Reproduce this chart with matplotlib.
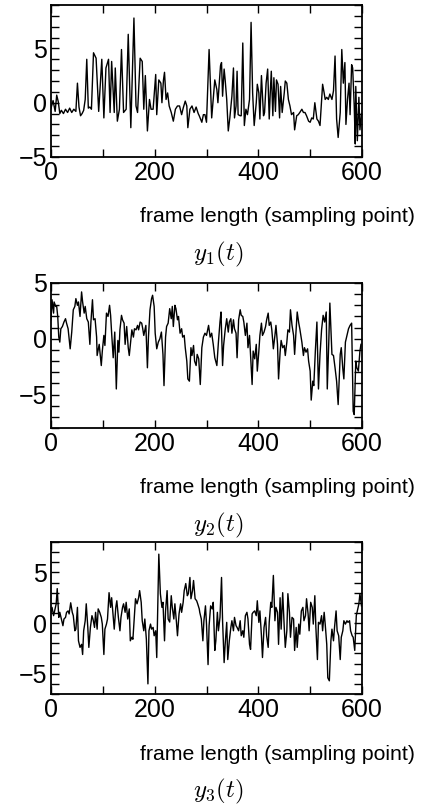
import matplotlib
matplotlib.use("Agg")
import matplotlib.pyplot as plt
from matplotlib.ticker import MultipleLocator

plt.rcParams['font.family'] = ['Liberation Sans', 'DejaVu Sans']
plt.rcParams['mathtext.fontset'] = 'cm'

# ---------------- data (sample index, amplitude) ----------------
x1 = [0, 4, 8, 11, 14, 17, 20, 24, 28, 32, 36, 40, 44, 48, 51, 54, 57, 60, 63, 66,
      69, 72, 75, 78, 82, 87, 92, 98, 102, 106, 111, 114, 117, 122, 124, 128, 132, 136,
      140, 145, 149, 154, 160, 164, 167, 172, 176, 179, 182, 186, 190, 193, 197, 202,
      204, 208, 212, 214, 217, 219, 222, 225, 228, 232, 236, 240, 244, 248, 252, 255,
      259, 262, 264, 268, 272, 276, 280, 284, 286, 291, 294, 297, 300, 305, 310, 313,
      316, 320, 322, 325, 327, 329, 331, 334, 336, 339, 342, 345, 349, 352, 354, 357,
      359, 361, 365, 367, 370, 373, 376, 379, 383, 386, 389, 392, 396, 398, 401, 403,
      406, 410, 412, 415, 418, 421, 423, 425, 428, 430, 433, 435, 438, 441, 443, 446,
      450, 452, 455, 458, 461, 464, 468, 470, 474, 477, 480, 484, 487, 490, 493, 497,
      500, 503, 506, 509, 513, 516, 519, 524, 527, 529, 532, 535, 538, 542, 545, 548,
      551, 554, 558, 561, 564, 567, 569, 572, 575, 577, 580, 582, 585, 587, 588, 591,
      594, 596, 599]
y1 = [-0.5, 0.2, -0.8, 0.7, 0.1, -1.0, -0.7, -1.0, -0.6, -0.9, -0.5, -0.9, -0.6, -0.8,
      1.8, -0.4, -1.2, -1.0, -0.7, 0.3, 4.0, -0.5, -0.4, -0.6, 4.6, 4.1, -0.8, 4.0, -1.4,
      3.2, 4.0, -0.9, 3.8, -0.9, 3.2, -1.7, -0.6, 4.9, -0.9, -0.6, 6.3, -2.3, 7.8, -0.3,
      -0.9, 4.1, 3.8, -0.6, 2.5, -2.6, 0.3, -0.6, -0.6, 2.6, -1.1, 2.1, 1.8, 0.0, 2.1,
      2.8, 0.3, 0.9, -0.3, -0.9, -1.7, -0.6, -0.3, -0.3, -1.1, -0.5, 0.15, -0.3, -2.3,
      -0.6, -0.3, -0.9, -0.4, -1.0, -1.2, -1.8, -1.1, -1.1, -1.8, 4.9, -1.4, 0.3, 2.1,
      1.2, 0.0, 2.1, 3.4, 3.7, 0.6, 3.1, 2.1, 0.3, -2.6, -1.4, 0.6, 3.2, -1.4, -0.3, 2.9,
      -1.1, -1.2, -1.2, 5.5, -2.1, -0.6, -1.1, 0.3, 7.4, 0.9, -2.1, 0.0, 1.7, 0.9, -1.5,
      2.5, -1.2, -0.9, 1.8, 3.1, -1.5, 0.9, 2.9, -1.2, 2.3, -0.8, 2.1, 1.7, -1.4, 1.5,
      -0.9, 0.9, 2.0, 1.8, 0.3, -0.3, -1.1, -0.9, -2.5, -1.2, -1.1, -0.9, -0.6, -0.9,
      -0.9, -1.2, -1.7, -1.8, -1.4, -1.5, 0.0, -1.5, -1.7, -2.1, 1.7, 0.9, 0.3, 0.5, 0.3,
      0.8, 0.3, 1.1, 4.3, -1.5, -3.2, -0.9, 4.9, 1.8, 3.7, -2.0, 0.3, 1.8, -1.1, 3.5,
      3.2, -0.3, -3.8, 1.5, -3.5, 0.5, -2.5, -1.0]

x2 = [0, 2, 5, 6, 9, 11, 13, 15, 17, 19, 22, 25, 28, 30, 33, 37, 40, 43, 46, 48, 51,
      53, 56, 59, 61, 64, 66, 69, 72, 75, 77, 80, 82, 85, 88, 89, 93, 97, 99, 102, 104,
      107, 110, 113, 115, 117, 120, 123, 126, 129, 131, 133, 136, 138, 141, 143, 146,
      149, 151, 154, 156, 159, 161, 164, 167, 169, 172, 175, 177, 179, 183, 186, 188,
      191, 194, 196, 199, 201, 204, 207, 210, 213, 216, 218, 221, 223, 226, 229, 232,
      234, 236, 239, 241, 244, 246, 249, 252, 254, 257, 259, 262, 264, 267, 270, 272,
      275, 277, 280, 282, 285, 288, 291, 294, 297, 300, 304, 307, 310, 313, 316, 320,
      323, 326, 328, 331, 333, 336, 339, 342, 344, 347, 349, 352, 354, 357, 359, 362,
      365, 367, 370, 372, 375, 378, 380, 383, 385, 388, 390, 393, 396, 398, 401, 403,
      406, 408, 411, 414, 416, 419, 421, 424, 426, 429, 432, 434, 437, 439, 442, 444,
      447, 450, 452, 455, 457, 460, 462, 465, 468, 470, 473, 475, 478, 480, 484, 487,
      489, 492, 495, 497, 500, 502, 505, 507, 510, 513, 516, 519, 522, 525, 528, 531,
      533, 536, 538, 542, 545, 548, 551, 554, 558, 560, 563, 565, 568, 571, 574, 577,
      580, 583, 585, 588, 590, 593, 596, 598]
y2 = [1.7, 3.5, 2.3, 3.3, 2.9, 2.9, 2.0, 0.15, -0.3, 0.9, 1.1, 1.5, 1.8, 1.4, 0.9,
      -0.9, 0.6, 2.6, 2.9, 3.6, 3.0, 3.3, 2.0, 4.2, 3.3, 2.3, 2.9, 1.8, 1.5, -0.5, 1.5,
      3.5, 1.7, 1.8, 0.15, -1.5, -0.5, -2.4, -1.1, 0.3, -0.6, 2.3, 2.0, 3.0, 2.1, 0.5,
      -1.7, 0.6, -4.5, -0.15, -1.2, 0.8, 2.1, 1.7, 1.4, -0.5, 1.1, -0.8, -1.5, -0.15,
      0.8, 0.15, 0.9, 0.8, 1.2, 0.8, 1.5, 1.4, 0.9, 0.3, 1.2, -2.6, 0.15, 2.6, 3.6, 3.9,
      2.9, 0.5, -0.9, -0.3, 0.0, 0.6, -1.4, -4.2, 0.15, 1.1, 1.4, 2.7, 1.8, 2.9, 1.1, 3.0,
      2.7, 1.7, 2.0, 0.5, 0.9, 0.15, 0.3, -0.8, -2.0, -3.6, -3.8, -0.8, -1.5, -0.6, -2.0,
      -2.4, -1.4, -1.8, -4.1, -0.8, 0.15, 0.5, 0.3, 1.2, 0.15, 0.5, -0.5, -1.7, -2.4,
      -0.3, 1.5, 2.4, -2.4, -0.6, 0.8, 1.8, 0.6, 1.5, 1.8, 0.5, 1.7, 0.9, 0.5, -1.7, 1.7,
      2.6, 2.1, 2.0, 1.5, 0.3, 1.4, -0.8, 0.3, -1.5, -4.1, -1.1, -1.8, -0.5, -2.9, -1.1,
      0.3, 1.4, 0.3, 0.6, 1.1, 1.7, 2.3, 1.2, 1.5, 0.8, -0.9, 0.3, 1.2, -0.5, -3.6, -1.2,
      -0.15, -0.8, -0.6, -1.5, -0.3, 0.8, 0.6, 2.6, 1.2, 0.3, -1.4, 0.8, 2.4, 1.4, 0.9,
      -0.3, -1.5, -0.8, -1.2, -0.9, -2.0, -2.9, -5.5, -3.8, -4.2, -1.1, 1.5, -4.5, -1.4,
      0.8, 2.1, 1.5, 2.4, -4.5, -0.15, 3.2, -1.4, -1.5, -2.6, -3.8, -5.9, -1.4, -0.8,
      -2.7, -3.6, -0.3, 0.3, 0.9, 1.2, 1.4, -6.5, -6.8, -2.0, -2.6, -2.9, -1.1, -0.5]

x3 = [0, 2, 5, 7, 10, 12, 15, 17, 20, 23, 25, 28, 30, 33, 35, 38, 41, 43, 46, 48, 51,
      53, 56, 59, 61, 63, 66, 68, 71, 73, 76, 79, 81, 84, 86, 89, 91, 94, 97, 99, 102,
      104, 107, 109, 112, 115, 117, 120, 122, 125, 127, 130, 133, 135, 138, 140, 143,
      145, 148, 151, 153, 156, 158, 161, 163, 166, 169, 171, 174, 176, 179, 181, 184,
      187, 189, 192, 194, 197, 199, 202, 204, 206, 208, 211, 214, 216, 219, 221, 224,
      226, 229, 232, 234, 237, 239, 242, 244, 247, 250, 252, 255, 257, 260, 263, 265,
      268, 270, 273, 275, 278, 281, 283, 286, 287, 290, 293, 295, 298, 300, 303, 305,
      308, 311, 313, 316, 318, 321, 323, 326, 329, 331, 334, 336, 339, 341, 344, 347,
      349, 352, 354, 357, 359, 362, 365, 367, 370, 372, 375, 378, 380, 383, 385, 388,
      390, 393, 396, 398, 401, 403, 406, 408, 411, 414, 416, 419, 421, 424, 426, 429,
      432, 434, 437, 439, 442, 444, 447, 450, 452, 455, 457, 460, 462, 465, 468, 470,
      473, 475, 478, 480, 483, 486, 488, 491, 493, 496, 498, 501, 504, 506, 509, 511,
      514, 516, 519, 522, 524, 527, 529, 532, 534, 537, 540, 542, 545, 547, 550, 552,
      555, 558, 560, 563, 565, 568, 571, 573, 576, 578, 581, 583, 586, 589, 591, 594,
      596, 599]
y3 = [1.06, 1.55, 0.73, 1.2, 1.9, 3.4, 0.56, 1.06, 0.4, -0.26, 0.4, 0.56, 1.06, 1.2,
      0.9, 2.0, 1.06, 0.73, -0.76, -0.6, 1.55, -1.75, -2.4, -2.1, -3.1, -0.76, 0.23, 1.9,
      -0.43, -2.4, -0.43, 0.73, 0.4, -0.43, 1.06, -0.6, 1.4, 1.06, 0.56, -0.1, -3.1, -0.6,
      -0.1, 0.4, 3.0, 1.55, 2.5, 0.56, -0.6, 1.55, 2.2, 0.56, -0.76, 0.56, 1.55, 1.9,
      1.06, 2.05, 0.4, 1.4, -1.75, -1.4, -1.6, 0.9, 2.4, 1.9, 2.5, 3.2, 2.05, 0.23, -0.76,
      0.4, -1.6, -6.0, -0.76, -0.1, -0.6, -0.43, -1.25, -0.76, -3.4, 1.9, 6.8, 2.9, 1.55,
      2.05, -1.75, 1.2, 3.2, 0.4, 0.1, 2.7, 1.55, 0.4, 1.9, 0.1, -1.25, 0.9, 1.9, 1.06,
      2.05, 3.2, 3.9, 2.7, 2.9, 4.5, 2.4, 3.2, 4.2, 2.4, 2.2, 1.9, 1.4, 1.06, 0.4, -1.75,
      0.23, 1.7, -0.1, -4.1, -0.26, 1.7, 1.4, 2.05, -2.7, -1.75, 1.06, -0.76, 0.56, 4.5,
      0.23, -3.9, -2.1, 0.07, -3.6, -1.75, -0.43, 0.23, -0.76, 0.56, -0.26, -0.43, -0.76,
      0.23, -1.25, -0.76, -1.4, 0.73, 1.06, 0.4, -2.1, -2.6, 0.9, 1.06, 1.2, 0.73, 2.2,
      0.07, 1.2, -1.25, -3.4, -0.43, 0.56, -1.25, -2.4, 0.07, 2.05, 1.55, 4.7, 0.23, 1.55,
      1.06, -2.1, 2.5, -0.6, 3.0, -0.43, -2.4, -0.76, 2.9, 1.06, -1.4, 0.56, 0.4, -2.7,
      -0.43, -2.4, -0.1, -1.1, 1.2, 1.55, 0.23, 0.73, 2.4, 0.9, -0.76, 2.05, 1.55, -0.1,
      2.7, -0.43, -3.6, 0.07, -0.1, 0.73, -0.76, 1.06, -0.1, -2.1, -5.4, -5.7, -1.75,
      -0.6, -1.75, -0.43, 1.2, -0.76, -1.25, -3.6, -1.4, -0.76, 0.23, -0.1, 0.23, 0.07,
      0.23, -0.76, -1.25, -1.4, -2.7, 0.73, 1.2, 1.9, 2.9, 1.7]

series = [(x1, y1), (x2, y2), (x3, y3)]
titles = ['$y_1(t)$', '$y_2(t)$', '$y_3(t)$']
ylims = [(-5, 9), (-8, 5), (-7, 8)]
xticks_major = [0, 200, 400, 600]
yticks_major = [-5, 0, 5]
xlabel = 'frame length (sampling point)'

W, H = 431, 810
# axes boxes in pixels: left, top, right, bottom
boxes = [(51, 5, 362, 157), (51, 283, 362, 428), (51, 542, 362, 694)]

fig = plt.figure(figsize=(W / 100, H / 100), dpi=100)
for (xs, ys), ttl, yl, (l, t, r, b) in zip(series, titles, ylims, boxes):
    ax = fig.add_axes([l / W, 1 - b / H, (r - l) / W, (b - t) / H])
    ax.plot(xs, ys, color='black', lw=1.0)
    ax.set_xlim(0, 600)
    ax.set_ylim(*yl)
    ax.set_xticks(xticks_major)
    ax.set_yticks(yticks_major)
    ax.xaxis.set_minor_locator(MultipleLocator(100))
    ax.yaxis.set_minor_locator(MultipleLocator(1))
    ax.tick_params(which='both', direction='in', top=True, right=True,
                   length=6, width=1.0, labelsize=18)
    ax.tick_params(axis='x', pad=3)
    ax.tick_params(axis='y', pad=3)
    for s in ax.spines.values():
        s.set_linewidth(1.3)
    hpx = b - t
    ax.set_xlabel(xlabel, fontsize=15.3, ha='right', va='center')
    ax.xaxis.set_label_coords((415 - l) / (r - l), -60 / hpx)
    ax.text((218 - l) / (r - l), -97 / hpx, ttl, transform=ax.transAxes,
            ha='center', va='center', fontsize=18)

fig.savefig('out.png', dpi=100)
